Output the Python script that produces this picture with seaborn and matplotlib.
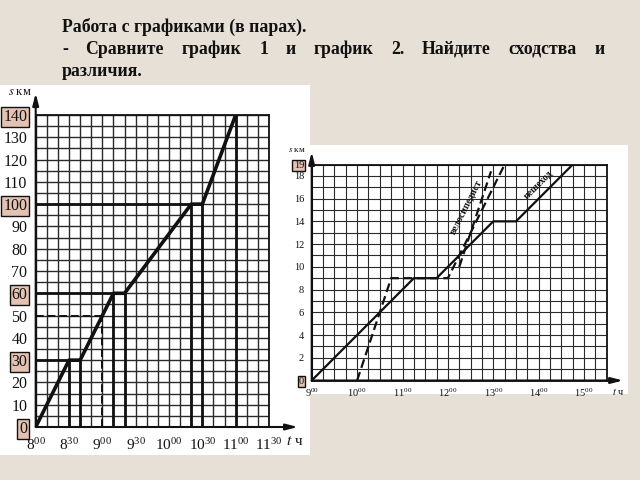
import seaborn as sns
import matplotlib.pyplot as plt
from matplotlib.patches import Rectangle
from matplotlib.ticker import MultipleLocator

# graph 1: distance s (km) against time t (hours)
t_car = [8, 8.5, 8 + 40 / 60, 9 + 10 / 60, 9 + 20 / 60, 10 + 20 / 60, 10.5, 11]
s_car = [0, 30, 30, 60, 60, 100, 100, 140]
car_hlines = [30, 60, 100]
car_hline_end = [8 + 40 / 60, 9 + 20 / 60, 10.5]
guide_t = 9.0
guide_s = 50
car_xticks = [8, 8.5, 9, 9.5, 10, 10.5, 11, 11.5]
car_xlabels = ["8", "8", "9", "9", "10", "10", "11", "11"]
car_xmins = ["00", "30", "00", "30", "00", "30", "00", "30"]
car_yticks = list(range(0, 141, 10))
car_boxed = [0, 30, 60, 100, 140]

# graph 2: pedestrian (solid) and cyclist (dashed)
t_walk = [9, 11.25, 11.75, 13, 13.5, 14.75]
s_walk = [0, 9, 9, 14, 14, 19]
t_bike = [10, 10.75, 12, 13.25]
s_bike = [0, 9, 9, 19]
t_bike2 = [12.25, 12.95]
s_bike2 = [10, 18.4]
walk_xticks = [9, 10, 11, 12, 13, 14, 15]
walk_yticks = [0, 2, 4, 6, 8, 10, 12, 14, 16, 18, 19]
walk_boxed = [0, 19]

sns.set_style("white")
plt.rcParams["font.family"] = ["Liberation Serif", "DejaVu Serif"]
plt.rcParams["mathtext.fontset"] = "stix"

BEIGE = "#e6e0d6"
BOX = "#e3c2b1"
INK = "#111111"

fig = plt.figure(figsize=(6.4, 4.8), dpi=100, facecolor=BEIGE)

# white panels of the scanned graphs
fig.patches.append(Rectangle((0, 1 - 455 / 480), 310 / 640, 370 / 480,
                             transform=fig.transFigure, fc="white", ec="none", zorder=-5))
fig.patches.append(Rectangle((310 / 640, 1 - 394 / 480), 318 / 640, 249 / 480,
                             transform=fig.transFigure, fc="white", ec="none", zorder=-5))


def justified(words, x0, x1, y, **kw):
    r = fig.canvas.get_renderer()
    texts = [fig.text(0, y, w, **kw) for w in words]
    widths = [t.get_window_extent(r).width for t in texts]
    W = fig.bbox.width
    gap = ((x1 - x0) * W - sum(widths)) / (len(words) - 1)
    x = x0 * W
    for t, w in zip(texts, widths):
        t.set_x(x / W)
        x += w + gap


title_kw = dict(fontsize=12.8, fontweight="bold", color=INK, va="center")
fig.text(62 / 640, 1 - 27 / 480, "Работа с графиками (в парах).", **title_kw)
justified("- Сравните график 1 и график 2. Найдите сходства и".split(),
          62 / 640, 605 / 640, 1 - 49 / 480, **title_kw)
fig.text(62 / 640, 1 - 71 / 480, "различия.", **title_kw)


def style_axes(ax, lw_grid):
    ax.set_facecolor("white")
    ax.grid(which="both", color="#2a2a2a", lw=lw_grid)
    ax.set_axisbelow(True)
    for sp in ax.spines.values():
        sp.set_color(INK)
        sp.set_linewidth(1.3)
        sp.set_visible(True)


def box_labels(labels, boxed, values):
    for lab, v in zip(labels, values):
        if v in boxed:
            lab.set_bbox(dict(boxstyle="square,pad=0.12", fc=BOX, ec=INK, lw=1.0))


def arrows(ax, xend, yend):
    ah = dict(arrowstyle="-|>,head_length=0.7,head_width=0.18", color=INK, lw=1.5,
              shrinkA=0, shrinkB=0)
    ax.annotate("", xy=(xend, 0), xytext=(0, 0), xycoords="axes fraction",
                arrowprops=ah, annotation_clip=False)
    ax.annotate("", xy=(0, yend), xytext=(0, 0), xycoords="axes fraction",
                arrowprops=ah, annotation_clip=False)


# ---- graph 1 ----
ax1 = fig.add_axes([35.7 / 640, 1 - 427 / 480, 233.3 / 640, 312 / 480])
style_axes(ax1, 1.0)
ax1.set_xlim(8, 11.5)
ax1.set_ylim(0, 140)
ax1.xaxis.set_major_locator(MultipleLocator(0.5))
ax1.xaxis.set_minor_locator(MultipleLocator(1 / 6))
ax1.yaxis.set_major_locator(MultipleLocator(10))
ax1.yaxis.set_minor_locator(MultipleLocator(5))

ax1.vlines(t_car[1:], 0, s_car[1:], color=INK, lw=2.0)
ax1.hlines(car_hlines, 8, car_hline_end, color=INK, lw=2.0)
ax1.plot([guide_t, guide_t], [0, guide_s], color=INK, lw=1.4, ls=(0, (4, 2)))
ax1.plot([8, guide_t], [guide_s, guide_s], color=INK, lw=1.4, ls=(0, (4, 2)))
sns.lineplot(x=t_car, y=s_car, ax=ax1, color=INK, linewidth=2.6,
             sort=False, estimator=None)

ax1.set_xticks(car_xticks)
ax1.set_xticklabels([rf"$\mathregular{{{h}^{{{m}}}}}$" for h, m in zip(car_xlabels, car_xmins)],
                    fontsize=11)
ax1.set_yticks(car_yticks)
ax1.set_yticklabels([str(v) for v in car_yticks], fontsize=11.5)
box_labels(ax1.get_yticklabels(), car_boxed, car_yticks)
ax1.tick_params(which="major", direction="inout", length=6, width=1.6, color=INK,
                labelcolor=INK, pad=3)
ax1.tick_params(which="minor", length=0)
ax1.tick_params(axis="x", pad=4)
arrows(ax1, 1.124, 1.07)
ax1.text(-0.07, 1.074, r"$s$ км", transform=ax1.transAxes, fontsize=9,
         ha="center", va="center", color=INK)
ax1.text(1.11, -0.045, r"$t$ ч", transform=ax1.transAxes, fontsize=11,
         ha="center", va="center", color=INK)
ax1.set_xlabel("")
ax1.set_ylabel("")

# ---- graph 2 ----
ax2 = fig.add_axes([311.7 / 640, 1 - 380.5 / 480, 295.1 / 640, 216 / 480])
style_axes(ax2, 0.8)
ax2.set_xlim(9, 15.5)
ax2.set_ylim(0, 19)
ax2.xaxis.set_minor_locator(MultipleLocator(0.25))
ax2.yaxis.set_minor_locator(MultipleLocator(1))

sns.lineplot(x=t_walk, y=s_walk, ax=ax2, color=INK, linewidth=1.6,
             sort=False, estimator=None)
sns.lineplot(x=t_bike, y=s_bike, ax=ax2, color=INK, linewidth=1.6,
             linestyle=(0, (4, 2)), sort=False, estimator=None)
sns.lineplot(x=t_bike2, y=s_bike2, ax=ax2, color=INK, linewidth=1.6,
             linestyle=(0, (4, 2)), sort=False, estimator=None)

ax2.set_xticks(walk_xticks)
ax2.set_xticklabels([rf"$\mathregular{{{h}^{{00}}}}$" for h in walk_xticks], fontsize=7.5)
ax2.set_yticks(walk_yticks)
ax2.set_yticklabels([str(v) for v in walk_yticks], fontsize=7.5)
box_labels(ax2.get_yticklabels(), walk_boxed, walk_yticks)
ax2.tick_params(which="major", direction="inout", length=5, width=1.3, color=INK,
                labelcolor=INK, pad=3)
ax2.tick_params(which="minor", length=0)
ax2.tick_params(axis="x", pad=2)
arrows(ax2, 1.055, 1.058)
ax2.text(-0.05, 1.067, r"$s$ км", transform=ax2.transAxes, fontsize=6.5,
         ha="center", va="center", color=INK)
ax2.text(1.04, -0.053, r"$t$ ч", transform=ax2.transAxes, fontsize=7.5,
         ha="center", va="center", color=INK)
ax2.text(12.40, 15.2, "велосипедист", rotation=63, fontsize=7, fontweight="bold",
         ha="center", va="center", color=INK)
ax2.text(14.0, 17.2, "пешеход", rotation=45, fontsize=7, fontweight="bold",
         ha="center", va="center", color=INK)
ax2.set_xlabel("")
ax2.set_ylabel("")

fig.savefig("out.png", dpi=100, facecolor=BEIGE)
